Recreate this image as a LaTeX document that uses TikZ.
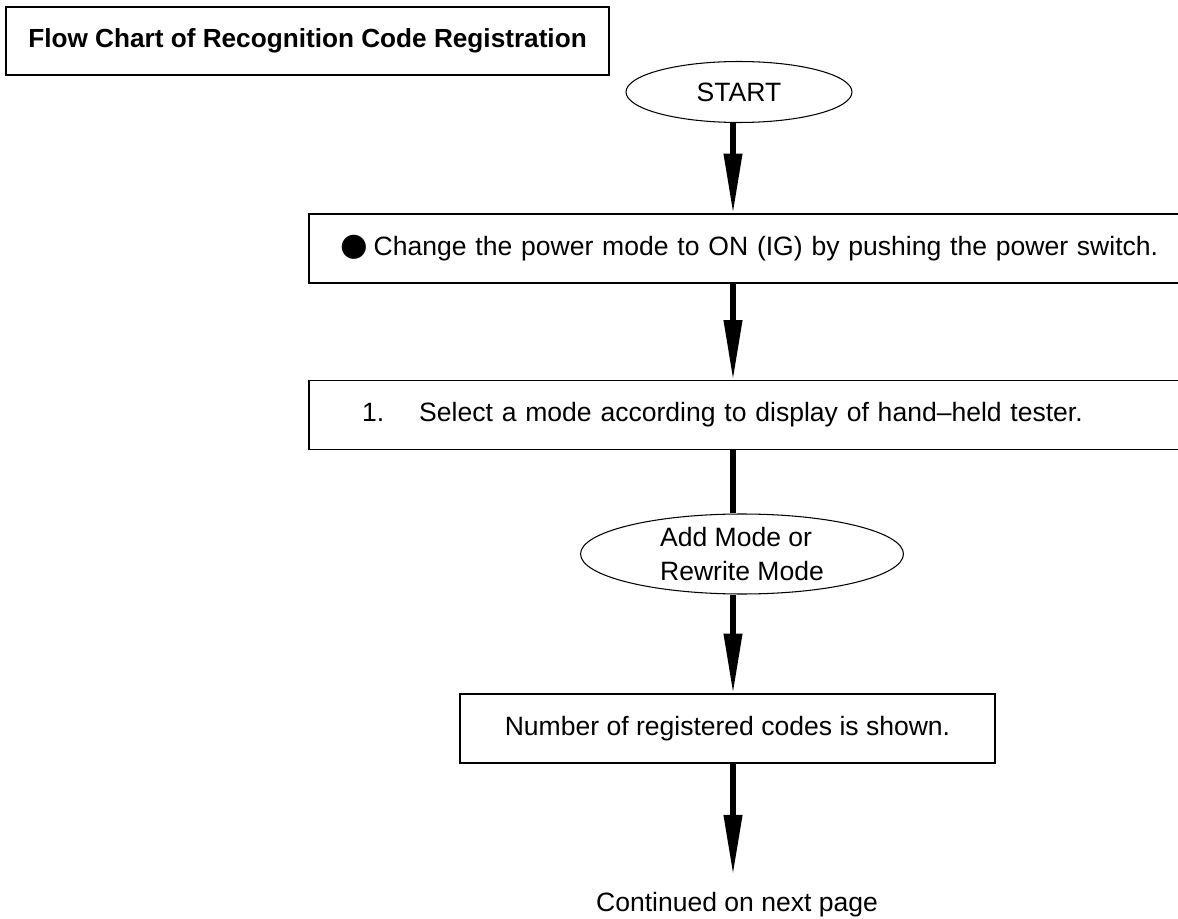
\documentclass[tikz,border=0pt]{standalone}
\usepackage{fontspec}
\setmainfont{Liberation Sans}
\newfontfamily\symfont{DejaVu Sans}
\usetikzlibrary{
        arrows.meta,
        positioning,
        shapes.geometric
    }
\tikzset{>={Triangle[length=34pt,width=10pt]}}
\tikzset{
    stepbox/.style={draw,line width=0.7pt,minimum height=1.38cm,inner ysep=0pt,align=left},
    termnode/.style={draw,ellipse,line width=0.6pt,inner sep=0pt},
    flow/.style={line width=3pt}
}

\begin{document}
\begin{tikzpicture}[x=0.02cm,y=-0.02cm,font=\fontsize{15.1}{18}\selectfont]
            \useasboundingbox (0,0) rectangle (1178,919);
            \node[stepbox,minimum width=12.06cm,minimum height=1.36cm,font=\fontsize{14.9}{18}\selectfont] (title) at (307.5,41) {\bfseries Flow Chart of Recognition Code Registration};
            \node[termnode,minimum width=4.52cm,minimum height=1.22cm] (start) at (739,92) {START};
            \node[stepbox,text width=18cm,inner xsep=0.62cm] (power) at (790,248.5) {{\symfont\fontsize{18}{18}\selectfont ●}\hspace{0.12cm}Change the power mode to ON (IG) by pushing the power switch.};
            \node[stepbox,text width=18cm,inner xsep=1.06cm] (select) at (812,415) {1.\hspace{0.7cm}Select a mode according to display of hand–held tester.};
            \node[termnode,minimum width=6.46cm,minimum height=1.6cm,align=left,font=\fontsize{15.1}{19.8}\selectfont] (mode) at (742,554) {Add Mode or\\Rewrite Mode};
            \node[stepbox,minimum width=10.7cm] (count) at (727.5,728.5) {Number of registered codes is shown.};
            \node[inner sep=0pt] (next) at (737,905) {Continued on next page};
            \coordinate (axis) at (733,0);
            \path[flow,->]
                (axis |- start.south)  edge  (axis |- power.north)
                (axis |- power.south)  edge  (axis |- select.north)
                (axis |- select.south)  edge[-]  (axis |- mode.north)
                (axis |- mode.south)  edge  (axis |- count.north)
                (axis |- count.south)  edge[shorten >=10pt]  (axis |- next.north)
            ;
        \end{tikzpicture}
\end{document}
